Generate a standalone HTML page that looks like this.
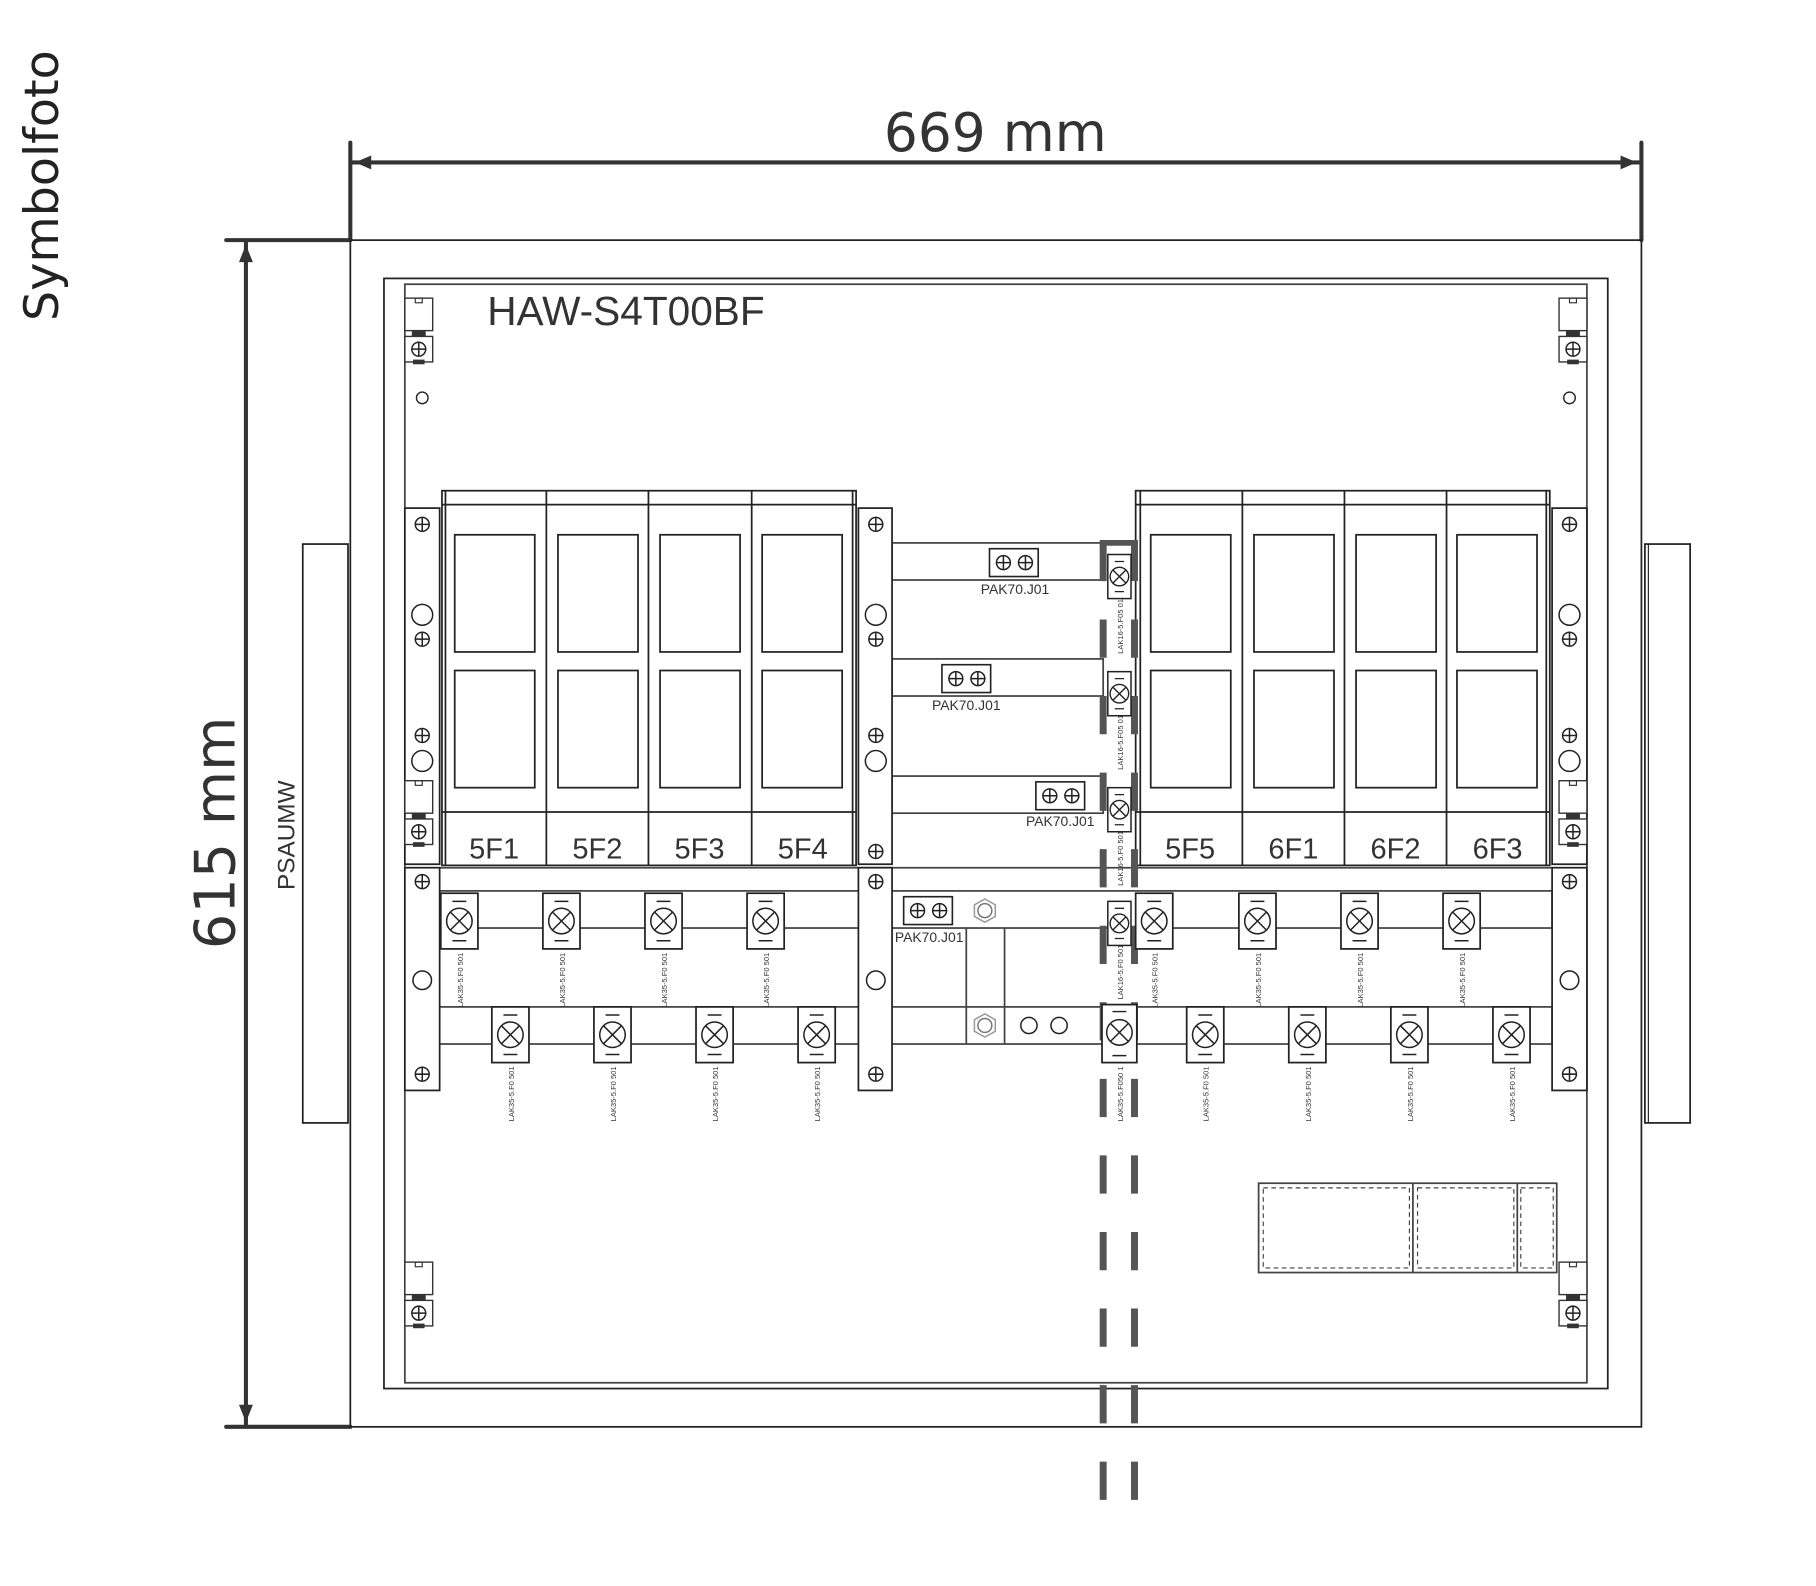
<!DOCTYPE html>
<html><head><meta charset="utf-8"><style>
html,body{margin:0;padding:0;background:#fff;}
svg{display:block;}
text{font-family:"Liberation Sans","DejaVu Sans",sans-serif;fill:#333;}
</style></head><body>
<svg width="1816" height="1586" viewBox="0 0 1565.5 1367.2" xmlns="http://www.w3.org/2000/svg">
<defs>
<g id="pl" fill="none" stroke="#222" stroke-width="1.3"><circle r="6"/><path d="M-6 0H6M0-6V6"/></g>
<g id="xt" fill="none" stroke="#222" stroke-width="1.3"><circle r="11"/><path d="M-7.8 -7.8L7.8 7.8M7.8 -7.8L-7.8 7.8"/></g>
<g id="cl"><rect x="-16" y="-24" width="32" height="48" fill="#fff" stroke="#222" stroke-width="1.5"/><path d="M-6 -17H6M-6 17H6" stroke="#222" stroke-width="1.3"/><use href="#xt"/></g>
<g id="sm"><rect x="-10" y="-19" width="20" height="38" fill="#fff" stroke="#222" stroke-width="1.3"/><path d="M-4 -13H4M-4 13H4" stroke="#222" stroke-width="1.1"/><g fill="none" stroke="#222" stroke-width="1.2"><circle r="8"/><path d="M-5.6 -5.6L5.6 5.6M5.6 -5.6L-5.6 5.6"/></g></g>
<g id="pak"><rect x="-21" y="-12" width="42" height="24" fill="#fff" stroke="#222" stroke-width="1.4"/><use href="#pl" x="-9"/><use href="#pl" x="10"/></g>
<g id="brk"><rect x="0" y="0" width="24" height="28" fill="#fff" stroke="#333" stroke-width="1.2"/><rect x="9" y="0" width="6" height="4" fill="none" stroke="#333" stroke-width="1"/><rect x="6" y="28" width="12" height="6" fill="#333"/><rect x="0" y="33" width="24" height="22" fill="#fff" stroke="#333" stroke-width="1.2"/><use href="#pl" x="12" y="44"/><rect x="7" y="53" width="10" height="4" fill="#333"/></g>
</defs>

<text x="0" y="0" font-size="41" transform="translate(50,160) rotate(-90)" text-anchor="middle" style="font-family:'DejaVu Sans',sans-serif;fill:#222">Symbolfoto</text>

<g stroke="#333" stroke-width="3.5" fill="#333" stroke-linecap="round">
<path d="M302 123V207M1415 123V207M302 140H1415"/>
<path d="M195 207H302M195 1230H302M212 207V1230"/>
</g>
<path d="M306 140L320 134V146Z M1411 140L1397 134V146Z M212 211L206 226H218Z M212 1226L206 1211H218Z" fill="#333"/>
<text x="858" y="130" font-size="46" text-anchor="middle" style="font-family:'DejaVu Sans',sans-serif">669 mm</text>
<text x="0" y="0" font-size="48" text-anchor="middle" transform="translate(202,718) rotate(-90)" style="font-family:'DejaVu Sans',sans-serif">615 mm</text>

<g fill="none" stroke="#222" stroke-width="1.5">
<rect x="302" y="207" width="1113" height="1023"/>
<rect x="331" y="240" width="1055" height="957"/>
<rect x="349" y="245" width="1019" height="947" stroke="#444"/>
<rect x="261" y="469" width="39" height="499"/>
<rect x="1418" y="469" width="39" height="499"/>
<path d="M1421 469V968" stroke-width="1"/>
</g>
<text x="0" y="0" font-size="21" text-anchor="middle" transform="translate(254,720) rotate(-90)">PSAUMW</text>
<text x="420" y="280" font-size="35">HAW-S4T00BF</text>

<use href="#brk" x="349" y="257"/>
<use href="#brk" x="1344" y="257"/>
<use href="#brk" x="349" y="1088"/>
<use href="#brk" x="1344" y="1088"/>
<g fill="none" stroke="#222" stroke-width="1.2"><circle cx="364" cy="343" r="5"/><circle cx="1353" cy="343" r="5"/></g>

<g fill="#fff" stroke="#444" stroke-width="1.5">
<rect x="379" y="768" width="959" height="32"/>
<rect x="379" y="868" width="959" height="32"/>
<rect x="769" y="468" width="182" height="32"/>
<rect x="769" y="568" width="182" height="32"/>
<rect x="769" y="669" width="182" height="32"/>
<path d="M379 748H1338" fill="none"/>
<path d="M833 800V900M866 800V900" fill="none"/>
</g>

<g fill="#fff" stroke="#222" stroke-width="1.5">
<rect x="349" y="438" width="30" height="307"/>
<rect x="349" y="748" width="30" height="192"/>
<rect x="740" y="438" width="29" height="307"/>
<rect x="740" y="748" width="29" height="192"/>
<rect x="1338" y="438" width="30" height="307"/>
<rect x="1338" y="748" width="30" height="192"/>
</g>
<g>
<use href="#pl" x="364" y="452"/><use href="#pl" x="364" y="551"/><use href="#pl" x="364" y="634"/><use href="#pl" x="364" y="760"/><use href="#pl" x="364" y="926"/>
<use href="#pl" x="755" y="452"/><use href="#pl" x="755" y="551"/><use href="#pl" x="755" y="634"/><use href="#pl" x="755" y="734"/><use href="#pl" x="755" y="760"/><use href="#pl" x="755" y="926"/>
<use href="#pl" x="1353" y="452"/><use href="#pl" x="1353" y="551"/><use href="#pl" x="1353" y="634"/><use href="#pl" x="1353" y="760"/><use href="#pl" x="1353" y="926"/>
</g>
<g fill="none" stroke="#222" stroke-width="1.3">
<circle cx="364" cy="530" r="9"/><circle cx="364" cy="656" r="9"/><circle cx="364" cy="845" r="8"/>
<circle cx="755" cy="530" r="9"/><circle cx="755" cy="656" r="9"/><circle cx="755" cy="845" r="8"/>
<circle cx="1353" cy="530" r="9"/><circle cx="1353" cy="656" r="9"/><circle cx="1353" cy="845" r="8"/>
</g>
<use href="#brk" x="349" y="673"/>
<use href="#brk" x="1344" y="673"/>

<g fill="#fff" stroke="#222" stroke-width="1.5">
<rect x="381" y="423" width="357" height="323"/>
<path d="M381 435H738M381 700H738M471 423V746M559 423V746M648 423V746M384 423V746M735 423V746" fill="none"/>
<rect x="392" y="461" width="69" height="101"/><rect x="392" y="578" width="69" height="101"/>
<rect x="481" y="461" width="69" height="101"/><rect x="481" y="578" width="69" height="101"/>
<rect x="569" y="461" width="69" height="101"/><rect x="569" y="578" width="69" height="101"/>
<rect x="657" y="461" width="69" height="101"/><rect x="657" y="578" width="69" height="101"/>
<rect x="979" y="423" width="357" height="323"/>
<path d="M979 435H1336M979 700H1336M1071 423V746M1159 423V746M1247 423V746M983 423V746M1333 423V746" fill="none"/>
<rect x="992" y="461" width="69" height="101"/><rect x="992" y="578" width="69" height="101"/>
<rect x="1081" y="461" width="69" height="101"/><rect x="1081" y="578" width="69" height="101"/>
<rect x="1169" y="461" width="69" height="101"/><rect x="1169" y="578" width="69" height="101"/>
<rect x="1256" y="461" width="69" height="101"/><rect x="1256" y="578" width="69" height="101"/>
</g>
<g font-size="25" text-anchor="middle">
<text x="426" y="740">5F1</text><text x="515" y="740">5F2</text><text x="603" y="740">5F3</text><text x="692" y="740">5F4</text>
<text x="1026" y="740">5F5</text><text x="1115" y="740">6F1</text><text x="1203" y="740">6F2</text><text x="1291" y="740">6F3</text>
</g>

<g stroke="#555" stroke-width="6" stroke-dasharray="33 33">
<path d="M951 468V1300M978 468V1300"/>
</g>
<path d="M948 468H981" stroke="#555" stroke-width="5"/>

<use href="#pak" x="874" y="485"/><use href="#pak" x="833" y="585"/><use href="#pak" x="914" y="686"/><use href="#pak" x="800" y="785"/>
<g font-size="12" text-anchor="middle">
<text x="875" y="512">PAK70.J01</text><text x="833" y="612">PAK70.J01</text><text x="914" y="712">PAK70.J01</text><text x="801" y="812">PAK70.J01</text>
</g>
<g fill="none" stroke="#999" stroke-width="1.3">
<path d="M849 775l9 5v10l-9 5l-9-5v-10z"/><circle cx="849" cy="785" r="6" stroke="#777"/>
<path d="M849 874l9 5v10l-9 5l-9-5v-10z"/><circle cx="849" cy="884" r="6" stroke="#777"/>
</g>
<g fill="none" stroke="#222" stroke-width="1.3"><circle cx="887" cy="884" r="7"/><circle cx="913" cy="884" r="7"/></g>

<use href="#sm" x="965" y="497"/><use href="#sm" x="965" y="598"/><use href="#sm" x="965" y="698"/><use href="#sm" x="965" y="796"/>
<g><rect x="950" y="866" width="30" height="50" fill="#fff" stroke="#222" stroke-width="1.5"/><path d="M959 872H971M959 910H971" stroke="#222" stroke-width="1.2"/><use href="#xt" x="965" y="890"/></g>

<use href="#cl" x="396" y="794"/><use href="#cl" x="484" y="794"/><use href="#cl" x="572" y="794"/><use href="#cl" x="660" y="794"/>
<use href="#cl" x="995" y="794"/><use href="#cl" x="1084" y="794"/><use href="#cl" x="1172" y="794"/><use href="#cl" x="1260" y="794"/>
<use href="#cl" x="440" y="892"/><use href="#cl" x="528" y="892"/><use href="#cl" x="616" y="892"/><use href="#cl" x="704" y="892"/>
<use href="#cl" x="1039" y="892"/><use href="#cl" x="1127" y="892"/><use href="#cl" x="1215" y="892"/><use href="#cl" x="1303" y="892"/>

<g font-size="6.5" text-anchor="middle" style="fill:#444">
<text transform="translate(399,845) rotate(-90)">LAK35-5.F0 501</text>
<text transform="translate(487,845) rotate(-90)">LAK35-5.F0 501</text>
<text transform="translate(575,845) rotate(-90)">LAK35-5.F0 501</text>
<text transform="translate(663,845) rotate(-90)">LAK35-5.F0 501</text>
<text transform="translate(998,845) rotate(-90)">LAK35-5.F0 501</text>
<text transform="translate(1087,845) rotate(-90)">LAK35-5.F0 501</text>
<text transform="translate(1175,845) rotate(-90)">LAK35-5.F0 501</text>
<text transform="translate(1263,845) rotate(-90)">LAK35-5.F0 501</text>
<text transform="translate(443,943) rotate(-90)">LAK35-5.F0 501</text>
<text transform="translate(531,943) rotate(-90)">LAK35-5.F0 501</text>
<text transform="translate(619,943) rotate(-90)">LAK35-5.F0 501</text>
<text transform="translate(707,943) rotate(-90)">LAK35-5.F0 501</text>
<text transform="translate(1042,943) rotate(-90)">LAK35-5.F0 501</text>
<text transform="translate(1130,943) rotate(-90)">LAK35-5.F0 501</text>
<text transform="translate(1218,943) rotate(-90)">LAK35-5.F0 501</text>
<text transform="translate(1306,943) rotate(-90)">LAK35-5.F0 501</text>
<text transform="translate(968,540) rotate(-90)">LAK16-5.F05 01</text>
<text transform="translate(968,640) rotate(-90)">LAK16-5.F05 01</text>
<text transform="translate(968,740) rotate(-90)">LAK16-5.F0 501</text>
<text transform="translate(968,838) rotate(-90)">LAK16-5.F0 501</text>
<text transform="translate(968,943) rotate(-90)">LAK35-5.F050 1</text>
</g>

<g fill="none" stroke="#444" stroke-width="1.5">
<rect x="1085" y="1020" width="257" height="77"/>
<path d="M1218 1020V1097M1308 1020V1097"/>
</g>
<g fill="none" stroke="#444" stroke-width="1" stroke-dasharray="4 3">
<rect x="1089" y="1024" width="126" height="69"/>
<rect x="1222" y="1024" width="83" height="69"/>
<rect x="1311" y="1024" width="28" height="69"/>
</g>
</svg>
</body></html>
